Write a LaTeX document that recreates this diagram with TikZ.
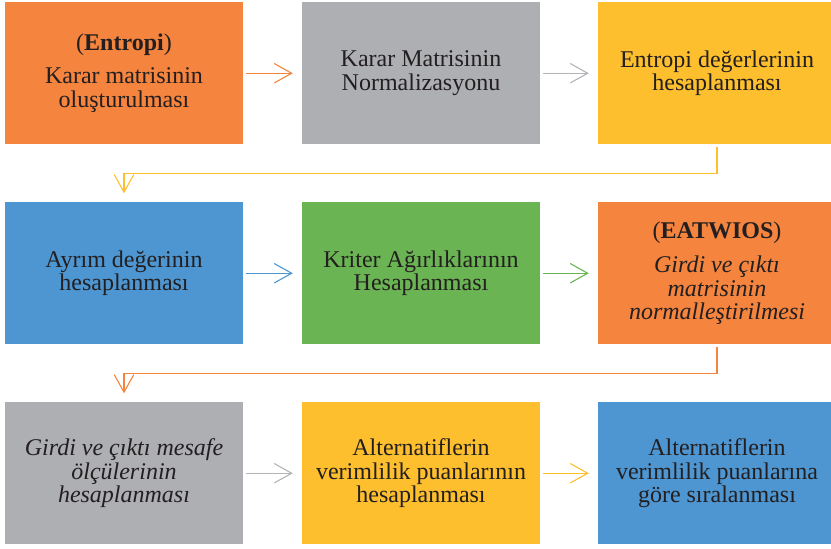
\documentclass[tikz,border=0pt]{standalone}
\usepackage{fontspec}
\setmainfont{Liberation Serif}
\usetikzlibrary{arrows.meta}
\definecolor{cOrange}{HTML}{F4843E}
\definecolor{cGray}{HTML}{AEAFB3}
\definecolor{cYellow}{HTML}{FDBF2D}
\definecolor{cBlue}{HTML}{4E96D1}
\definecolor{cGreen}{HTML}{6BB453}
\definecolor{cText}{HTML}{231F20}
\definecolor{aGray}{HTML}{B3B4B7}
\tikzset{
  flowbox/.style={rectangle, inner sep=0pt, minimum width=238pt, minimum height=141.5pt,
    fill=#1, align=center, text=cText, font=\fontsize{24}{23.5}\selectfont},
  conn/.style={draw=#1, line width=1.1pt, -{Straight Barb[length=17.5pt, width=19.5pt, line width=1.1pt]}},
}
\begin{document}
\begin{tikzpicture}[x=1pt, y=1pt]
\useasboundingbox (0,0) rectangle (831,549);
\clip (0,0) rectangle (831,549);
% row 1
\node[flowbox=cOrange] (b1) at (124,475.75) {(\textbf{Entropi})\\[9.5pt]Karar matrisinin\\oluşturulması};
\node[flowbox=cGray] (b2) at (421,475.75) {Karar Matrisinin\\Normalizasyonu};
\node[flowbox=cYellow] (b3) at (717,475.75) {Entropi değerlerinin\\hesaplanması};
% row 2
\node[flowbox=cBlue] (b4) at (124,275.75) {Ayrım değerinin\\hesaplanması};
\node[flowbox=cGreen] (b5) at (421,275.75) {Kriter Ağırlıklarının\\Hesaplanması};
\node[flowbox=cOrange] (b6) at (717,275.75) {(\textbf{EATWIOS})\\[11pt]\itshape Girdi ve çıktı\\\itshape matrisinin\\\itshape normalleştirilmesi};
% row 3
\node[flowbox=cGray] (b7) at (124,75.75) {\itshape Girdi ve çıktı mesafe\\\itshape ölçülerinin\\\itshape hesaplanması};
\node[flowbox=cYellow] (b8) at (421,75.75) {Alternatiflerin\\verimlilik puanlarının\\hesaplanması};
\node[flowbox=cBlue] (b9) at (717,75.75) {Alternatiflerin\\verimlilik puanlarına\\göre sıralanması};
% horizontal connectors
\draw[conn=cOrange] ([xshift=3pt]b1.east) -- ([xshift=-9pt]b2.west);
\draw[conn=aGray] ([xshift=3pt]b2.east) -- ([xshift=-9pt]b3.west);
\draw[conn=cBlue] ([xshift=3pt]b4.east) -- ([xshift=-9pt]b5.west);
\draw[conn=cGreen] ([xshift=3pt]b5.east) -- ([xshift=-9pt]b6.west);
\draw[conn=aGray] ([xshift=3pt]b7.east) -- ([xshift=-9pt]b8.west);
\draw[conn=cYellow] ([xshift=3pt]b8.east) -- ([xshift=-9pt]b9.west);
% elbow connectors
\draw[conn=cYellow] ([yshift=-3pt]b3.south) -- ++(0,-26.5) -| ([yshift=9pt]b4.north);
\draw[conn=cOrange] ([yshift=-3pt]b6.south) -- ++(0,-26.5) -| ([yshift=9pt]b7.north);
\end{tikzpicture}
\end{document}
